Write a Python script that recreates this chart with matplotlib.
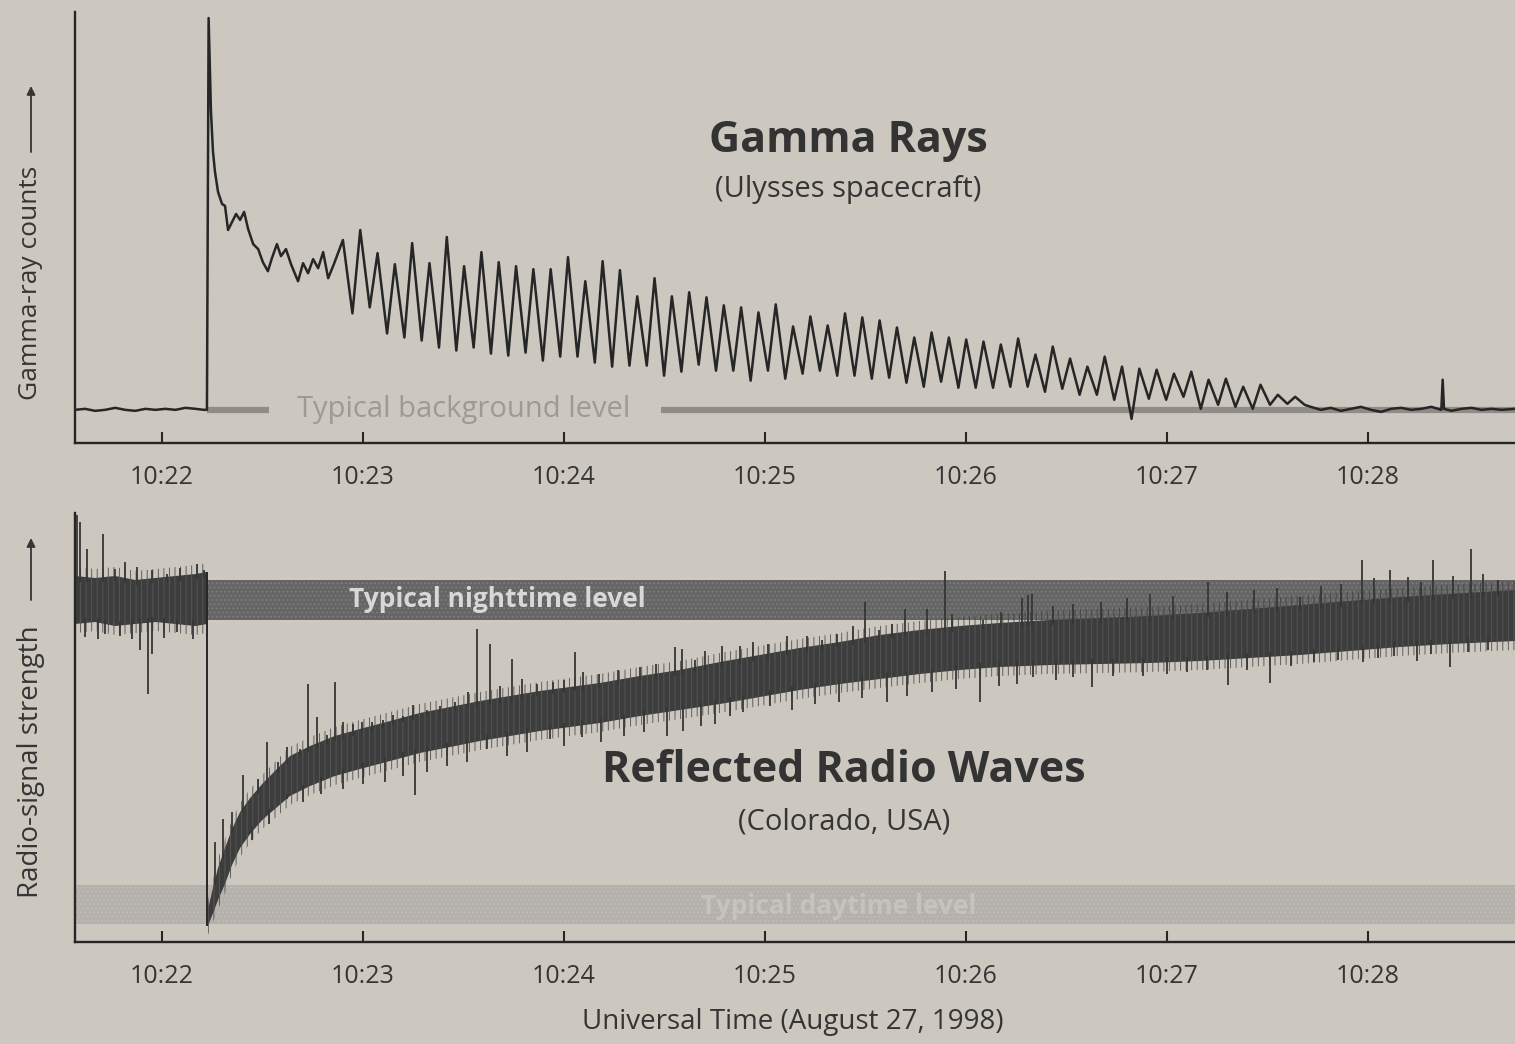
import numpy as np
import matplotlib
matplotlib.use("Agg")
import matplotlib.pyplot as plt

# ---------------------------------------------------------------
# Time axis: seconds after 10:22:00 UT, 27 August 1998
# ---------------------------------------------------------------
tick_seconds = [0, 60, 120, 180, 240, 300, 360]
tick_labels = ["10:22", "10:23", "10:24", "10:25", "10:26", "10:27", "10:28"]
t_min, t_max = -26.0, 404.0

# ---------------- Gamma rays (Ulysses), arbitrary count units ----------
gamma_background = 33

pre_t = [-26, -23, -20, -17, -14, -11, -8, -5, -2, 1, 4, 7, 10, 12.5]
pre_v = [33, 34, 32, 33, 35, 33, 32, 34, 33, 34, 33, 35, 34, 33]

# giant flare onset and initial decay
decay_t = [13.4, 13.9, 14.6, 15.2, 15.8, 16.7, 17.9, 18.8, 19.7, 20.9, 22.1,
           23.3, 24.5, 25.7, 27.2, 28.7, 30.1, 31.6, 32.8, 34.3, 35.5, 37.0,
           38.5, 40.6, 42.1, 43.6, 45.1, 46.6, 48.1, 49.6, 51.3]
decay_v = [33, 423, 330, 290, 270, 250, 238, 236, 212, 220, 228, 222, 230,
           213, 198, 193, 180, 171, 184, 198, 186, 193, 178, 161, 179, 169,
           183, 174, 190, 164, 178]

# 5.17 s pulsations: maximum and minimum of each rotation
pulse_start = 54.0
pulse_period = 5.17
pulse_peaks = [202, 212, 189, 178, 199, 179, 205, 176, 190, 180,
               176, 173, 173, 185, 161, 181, 172, 146, 164, 146,
               150, 145, 137, 135, 130, 138, 116, 126, 117, 129,
               125, 122, 115, 105, 110, 105, 103, 101, 98, 104,
               88, 96, 84, 76, 86, 76, 74, 73, 69, 71,
               63, 64, 56, 58, 48, 46]
pulse_troughs = [129, 135, 109, 105, 102, 95, 92, 95, 89, 87, 90, 82,
                 86, 86, 80, 76, 77, 77, 67, 71, 78, 72, 72, 62,
                 72, 64, 69, 72, 67, 67, 64, 65, 60, 56, 61, 55,
                 55, 55, 56, 56, 51, 54, 48, 48, 43, 24, 44, 43,
                 46, 34, 38, 36, 34, 38, 39, 38]

tail_t = [343, 346, 349, 352, 355, 358, 361, 364, 367, 370, 373, 376, 379,
          382, 382.4, 382.8, 385, 388, 391, 394, 397, 400, 404]
tail_v = [36, 33, 35, 32, 34, 36, 33, 31, 34, 35, 33, 34, 36, 33, 63, 34,
          32, 34, 35, 33, 34, 33, 34]

# ---------------- Reflected radio waves (Colorado), arbitrary units -----
night_level = (322, 362)
day_level = (18, 57)
burst_time = 13.4

radio_pre_t = [-26, -20, -14, -8, -2, 4, 10, 13.4]
radio_pre_lo = [318, 320, 316, 318, 320, 318, 316, 318]
radio_pre_hi = [366, 364, 366, 362, 364, 366, 368, 370]

radio_t = [13.7, 14.9, 16.7, 18.8, 20.9, 23.3, 26.3, 29.9, 33.7, 38.2, 44.2,
           51.6, 59.1, 68.1, 77.0, 86.0, 94.9, 103.9, 112.8, 121.8, 130.7,
           142.7, 154.6, 166.6, 178.5, 190.4, 202.4, 214.3, 226.3, 238.2,
           250.1, 265.1, 280.0, 294.9, 309.9, 324.8, 339.7, 354.6, 369.6,
           384.5, 404.0]
radio_lo = [16, 26, 42, 58, 77, 94, 108, 122, 133, 146, 156, 166, 173, 181,
            189, 195, 201, 206, 211, 215, 219, 226, 232, 238, 245, 252, 258,
            263, 268, 272, 275, 277, 278, 279, 281, 284, 287, 291, 295, 298,
            301]
radio_hi = [32, 50, 74, 94, 113, 130, 144, 158, 171, 186, 196, 206, 213, 221,
            229, 235, 241, 246, 251, 255, 259, 266, 272, 280, 287, 294, 300,
            307, 312, 316, 319, 322, 324, 326, 329, 333, 337, 341, 345, 348,
            352]

spike_up_t = [-25.4, -24.5, -22.4, -17.6, -14.0, -11.0, -7.5, -3.0, 1.5, 5.5,
              10.4, 12.5,
              15.8, 18.2, 21.0, 24.2, 28.7, 31.3, 34.5, 37.3, 41.2, 43.6,
              46.3, 49.3, 51.6, 54.0, 57.0, 59.7, 62.7, 66.0, 69.0, 72.0,
              74.9, 79.0, 83.0, 87.5, 91.3, 94.0, 97.9, 101.0, 104.5, 107.5,
              112.0, 116.7, 120.0, 123.3, 125.7, 130.5, 136.0, 142.7, 147.5,
              153.1, 155.2, 159.0, 162.1, 167.2, 172.5, 176.4, 181.0, 186.6,
              192.5, 197.0, 201.5, 206.3, 209.8, 214.0, 218.0, 221.8, 228.4,
              233.7, 235.8, 239.1, 245.0, 250.5, 256.7, 258.5, 259.7, 266.0,
              272.0, 280.5, 288.0, 295.0, 302.0, 312.2, 318.0, 326.0, 333.0,
              339.7, 346.0, 352.0, 358.2, 362.0, 366.6, 372.0, 376.0, 379.4,
              385.5, 391.0, 394.3, 399.0]
spike_up_v = [427, 420, 393, 408, 373, 380, 375, 372, 368, 374,
              378, 372,
              100, 123, 130, 167, 163, 200, 180, 195, 193, 258,
              225, 207, 260, 220, 218, 220, 220, 222, 227, 226,
              237, 232, 236, 240, 250, 313, 298, 256, 283, 263,
              258, 260, 262, 290, 270, 268, 272, 275, 278,
              295, 293, 282, 291, 296, 296, 300, 298, 306,
              306, 302, 308, 316, 340, 312, 318, 333, 333,
              371, 328, 315, 322, 330, 344, 347, 348, 336,
              338, 340, 344, 348, 346, 360, 350, 352, 354,
              345, 356, 358, 382, 364, 372, 365, 360, 382,
              366, 393, 368, 362]

spike_dn_t = [-23.0, -19.1, -17.0, -12.5, -9.0, -6.6, -4.2, -3.0, 0.5, 4.5,
              9.3,
              27.0, 32.0, 37.3, 42.0, 47.5, 54.0, 60.0, 66.5, 72.0, 75.5,
              79.1, 85.0, 91.0, 97.0, 103.0, 109.0, 115.8, 120.0, 125.4,
              131.0, 138.0, 144.0, 150.7, 155.5, 161.0, 165.0, 169.6, 173.4,
              181.5, 188.0, 195.0, 202.0, 209.0, 216.4, 222.4, 230.0, 237.0,
              244.2, 250.0, 255.2, 260.0, 267.0, 272.0, 277.6, 284.0, 292.8,
              300.0, 306.0, 312.0, 318.2, 324.0, 330.7, 337.0, 344.0, 351.0,
              358.5, 363.0, 368.0, 374.6, 379.0, 384.5, 390.0, 396.0]
spike_dn_v = [305, 303, 308, 306, 303, 292, 248, 288, 304, 310,
              303,
              102, 118, 143, 140, 148, 153, 158, 160, 166, 147,
              170, 176, 180, 193, 186, 190, 203, 196, 205,
              200, 206, 210, 206, 211, 216, 218, 226, 230,
              236, 232, 238, 240, 244, 240, 246, 250, 253,
              240, 256, 258, 265, 262, 265, 255, 266, 266,
              268, 270, 272, 257, 272, 259, 276, 280, 282,
              280, 284, 286, 281, 288, 275, 290, 292]

# ---------------------------------------------------------------
paper = "#cdc8bf"
ink = "#262626"
text_col = "#353535"
plt.rcParams["font.family"] = ["Open Sans", "DejaVu Sans"]
plt.rcParams["hatch.linewidth"] = 0.7

fig = plt.figure(figsize=(15.15, 10.44), dpi=100, facecolor=paper)
W, H = 1515.0, 1044.0


def fx(px):
    return px / W


def fy(py):
    return 1.0 - py / H


ax1 = fig.add_axes([fx(75), fy(443), 1 - fx(75), (443 - 12) / H])
ax2 = fig.add_axes([fx(75), fy(942), 1 - fx(75), (942 - 513) / H])

for ax in (ax1, ax2):
    ax.set_facecolor("none")
    ax.set_xlim(t_min, t_max)
    ax.set_ylim(0, 429)
    for s in ("top", "right"):
        ax.spines[s].set_visible(False)
    for s in ("left", "bottom"):
        ax.spines[s].set_linewidth(1.7)
        ax.spines[s].set_color(ink)
    ax.set_yticks([])
    ax.set_xticks(tick_seconds)
    ax.set_xticklabels(tick_labels)
    ax.tick_params(axis="x", direction="in", length=8, width=1.5,
                   colors=ink, labelsize=18, pad=16, labelcolor=text_col)

# ---------------- gamma-ray panel ----------------
pulse_t, pulse_v = [], []
for k, (pk, tr) in enumerate(zip(pulse_peaks, pulse_troughs)):
    pulse_t += [pulse_start + k * pulse_period,
                pulse_start + (k + 0.55) * pulse_period]
    pulse_v += [pk, tr]

g_t = pre_t + decay_t + pulse_t + tail_t
g_v = pre_v + decay_v + pulse_v + tail_v

# typical background level, broken where it is labelled
ax1.plot([burst_time, 32], [gamma_background] * 2, color="#8f8c88",
         lw=4.5, solid_capstyle="butt", zorder=1)
ax1.plot([149, t_max], [gamma_background] * 2, color="#8f8c88",
         lw=4.5, solid_capstyle="butt", zorder=1)
ax1.text(90, gamma_background, "Typical background level", color="#9d9a95",
         fontsize=21, ha="center", va="center", zorder=1)

ax1.plot(g_t, g_v, color=ink, lw=1.8, zorder=3)

fig.text(fx(848), fy(140), "Gamma Rays", fontsize=31, fontweight="bold",
         color="#333333", ha="center", va="center")
fig.text(fx(848), fy(190), "(Ulysses spacecraft)", fontsize=21,
         color=text_col, ha="center", va="center")

# ---------------- radio panel ----------------
ax2.fill_between([burst_time, t_max], night_level[0], night_level[1],
                 facecolor="#656565", edgecolor="#7e7e7e", hatch="....",
                 lw=0, zorder=1)
ax2.fill_between([t_min, t_max], day_level[0], day_level[1],
                 facecolor="#b4b1ad", edgecolor="#c0bdb9", hatch="....",
                 lw=0, zorder=1)

trace_t = radio_pre_t + radio_t
trace_lo = np.array(radio_pre_lo + radio_lo)
trace_hi = np.array(radio_pre_hi + radio_hi)

# ragged outer fringe of the noisy trace, then its dense core
for part_t, lo, hi in ((radio_pre_t, radio_pre_lo, radio_pre_hi),
                       (radio_t, radio_lo, radio_hi)):
    lo = np.array(lo)
    hi = np.array(hi)
    ax2.fill_between(part_t, lo - 9, hi + 9, facecolor="none",
                     edgecolor="#3a3a3a", hatch="|||", lw=0, alpha=0.75,
                     zorder=2)
    ax2.fill_between(part_t, lo, hi, facecolor="#3d3d3d",
                     edgecolor="#555555", hatch="|||", lw=0, zorder=2)

ax2.vlines(burst_time, radio_lo[0], radio_pre_hi[-1], color=ink, lw=1.4,
           zorder=3)

# isolated excursions above and below the main trace
up_base = np.interp(spike_up_t, trace_t, trace_hi)
dn_base = np.interp(spike_dn_t, trace_t, trace_lo)
ax2.vlines(spike_up_t, up_base - 5, spike_up_v, color="#363636", lw=1.3,
           zorder=3)
ax2.vlines(spike_dn_t, spike_dn_v, dn_base + 5, color="#363636", lw=1.3,
           zorder=3)

ax2.text(100, sum(night_level) / 2, "Typical nighttime level",
         color="#d8d8d8", fontsize=19, fontweight="bold",
         ha="center", va="center", zorder=4)
ax2.text(202, sum(day_level) / 2 - 2, "Typical daytime level",
         color="#c6c3bf", fontsize=19, fontweight="bold",
         ha="center", va="center", zorder=4)

fig.text(fx(844), fy(770), "Reflected Radio Waves", fontsize=31,
         fontweight="bold", color="#333333", ha="center", va="center")
fig.text(fx(844), fy(822), "(Colorado, USA)", fontsize=21,
         color=text_col, ha="center", va="center")

# axis titles with long upward arrows
fig.text(fx(31), fy(283), "Gamma-ray counts", rotation=90,
         fontsize=19, color=text_col, ha="center", va="center")
fig.text(fx(31), fy(762), "Radio-signal strength", rotation=90,
         fontsize=20, color=text_col, ha="center", va="center")
for y0, y1 in ((152, 86), (600, 538)):
    fig.add_artist(matplotlib.patches.FancyArrowPatch(
        (fx(31), fy(y0)), (fx(31), fy(y1)), transform=fig.transFigure,
        arrowstyle="-|>,head_length=5,head_width=2.5", color=text_col,
        lw=1.3, shrinkA=0, shrinkB=0))

fig.text(fx(793), fy(1022), "Universal Time (August 27, 1998)",
         fontsize=20, color=text_col, ha="center", va="center")

fig.savefig("out.png", dpi=100, facecolor=paper)
